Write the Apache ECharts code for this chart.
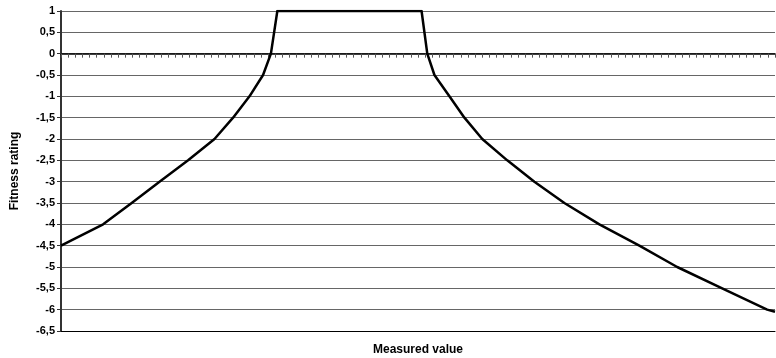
<!DOCTYPE html>
<html>
<head>
<meta charset="utf-8">
<script src="https://cdn.jsdelivr.net/npm/echarts@6/dist/echarts.min.js"></script>
<style>
  html, body { margin: 0; padding: 0; background: #fff; }
  #root { width: 776px; height: 358px; }
</style>
</head>
<body>
<div id="root"></div>
<script>
var measured = [0, 5.9, 9.9, 13.8, 17.8, 21.5, 24.1, 26.4, 28.3, 29.4, 30.3, 50.5, 51.3, 52.3, 54.4, 56.5, 59.0, 62.5, 66.3, 70.5, 75.4, 81.0, 86.3, 92.6, 98.9, 100]
var fitness = [-4.5, -4, -3.5, -3, -2.5, -2, -1.5, -1, -0.5, 0, 1, 1, 0, -0.5, -1, -1.5, -2, -2.5, -3, -3.5, -4, -4.5, -5, -5.5, -6, -6.05]

var xTitle = 'Measured value'
var yTitle = 'Fitness rating'

var chart = echarts.init(document.getElementById('root'))

var font = 'Liberation Sans, Arial, sans-serif'

const option = {
  animation: false,
  grid: { left: 61, right: 1, top: 11, bottom: 27, containLabel: false, outerBoundsMode: 'none' },
  xAxis: [
    {
      type: 'value',
      min: 0,
      max: 100,
      interval: 1,
      axisLine: { onZero: true, lineStyle: { color: '#000', width: 1.5 } },
      axisTick: { show: true, inside: false, length: 4, lineStyle: { color: '#555' } },
      axisLabel: { show: false },
      splitLine: { show: false }
    },
    {
      type: 'value',
      position: 'bottom',
      min: 0,
      max: 100,
      axisLine: { onZero: false, show: true, lineStyle: { color: '#000', width: 1 } },
      axisTick: { show: false },
      axisLabel: { show: false },
      splitLine: { show: false },
      name: xTitle,
      nameLocation: 'middle',
      nameGap: 13,
      nameTextStyle: { fontFamily: font, fontWeight: 'bold', fontSize: 12, color: '#000' }
    }
  ],
  yAxis: {
    type: 'value',
    min: -6.5,
    max: 1,
    interval: 0.5,
    name: yTitle,
    nameLocation: 'middle',
    nameRotate: 90,
    nameGap: 40,
    nameTextStyle: { fontFamily: font, fontWeight: 'bold', fontSize: 12, color: '#000' },
    axisLine: { show: true, lineStyle: { color: '#333', width: 2 } },
    axisTick: { show: true, length: 4, lineStyle: { color: '#333' } },
    axisLabel: {
      fontFamily: font,
      fontWeight: 'bold',
      fontSize: 11,
      color: '#000',
      margin: 6,
      formatter: function (v) { return String(v).replace('.', ',') }
    },
    splitLine: { show: true, lineStyle: { color: '#666', width: 1 } }
  },
  series: [
    {
      type: 'line',
      xAxisIndex: 0,
      data: measured.map(function (x, i) { return [x, fitness[i]] }),
      symbol: 'none',
      smooth: false,
      lineStyle: { color: '#000', width: 2.5, join: 'round' }
    }
  ]
}

chart.setOption(option)
</script>
</body>
</html>
